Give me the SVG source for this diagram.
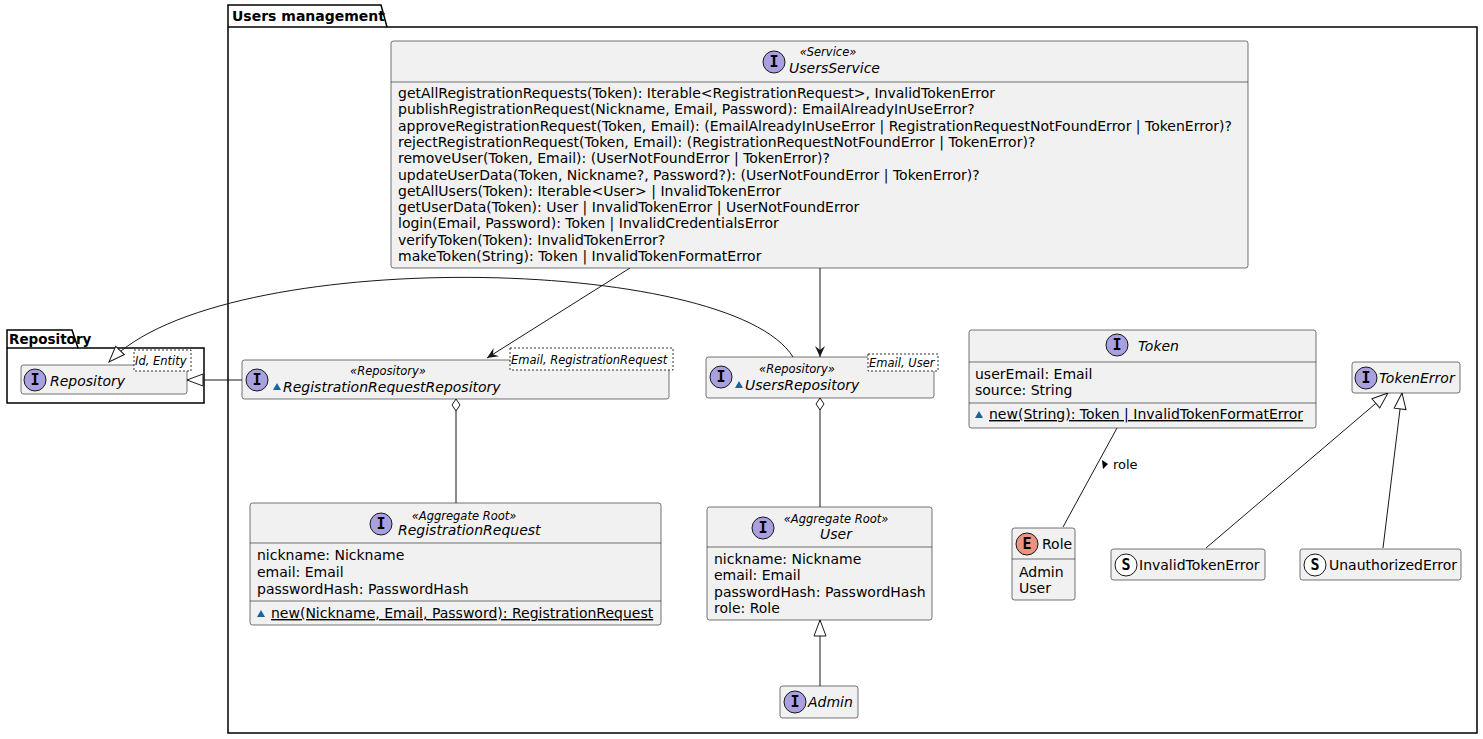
<svg xmlns="http://www.w3.org/2000/svg" width="1483" height="739" viewBox="0 0 1483 739">
<style>
text{font-family:"DejaVu Sans",sans-serif;fill:#000}
.m{font-size:14px}
.n{font-size:14px;font-style:italic}
.s{font-size:11.5px;font-style:italic;text-anchor:middle}
.t{font-size:11.5px;font-style:italic}
.b{fill:#F1F1F1;stroke:#181818;stroke-width:0.6}
.sep{stroke:#181818;stroke-width:0.6}
.ic{fill:#A9A0DF;stroke:#181818;stroke-width:1}
.l{stroke:#181818;stroke-width:1;fill:none}
.tp{fill:#fff;stroke:#000;stroke-width:0.8;stroke-dasharray:2,2}
.ci{font-size:15px;font-weight:bold;text-anchor:middle;font-family:"DejaVu Sans Mono",monospace}
.u{text-decoration:underline}
.vis{fill:#1963A0}
</style>
<defs>
<marker id="ar" markerWidth="12" markerHeight="12" refX="11" refY="5" orient="auto" markerUnits="userSpaceOnUse"><path d="M0,0 L11,5 L0,10 L4,5 Z" fill="#181818"/></marker>
<marker id="gen" markerWidth="20" markerHeight="16" refX="17" refY="7" orient="auto" markerUnits="userSpaceOnUse"><path d="M1,1 L17,7 L1,13 Z" fill="#fff" stroke="#181818"/></marker>
</defs>
<g id="pkg-users">
<path d="M228,27 L228,5 L381,5 L387,27 L1477,27 L1477,733 L228,733 Z" fill="none" stroke="#000" stroke-width="1.5"/>
<line x1="228" y1="27" x2="387" y2="27" stroke="#000" stroke-width="1.5"/>
<text x="232" y="21" style="font-size:14px;font-weight:bold">Users management</text>
</g>
<g id="pkg-repo">
<path d="M7,348 L7,330 L72,330 L78,348 L204,348 L204,403 L7,403 Z" fill="none" stroke="#000" stroke-width="1.5"/>
<line x1="7" y1="348" x2="78" y2="348" stroke="#000" stroke-width="1.5"/>
<text x="9" y="344" style="font-size:13.5px;font-weight:bold">Repository</text>
</g>
<g id="connectors">
<line class="l" x1="630" y1="268" x2="487" y2="358" marker-end="url(#ar)"/>
<line class="l" x1="820" y1="268" x2="820" y2="357" marker-end="url(#ar)"/>
<path class="l" d="M793,357 C730,255 220,245 109,362" marker-end="url(#gen)"/>
<line class="l" x1="242" y1="380" x2="187" y2="380" marker-end="url(#gen)"/>
<line class="l" x1="456" y1="503" x2="456" y2="411"/>
<path d="M456,399 L452,405 L456,411 L460,405 Z" fill="#fff" stroke="#181818"/>
<line class="l" x1="820" y1="507" x2="820" y2="410"/>
<path d="M820,398 L816,404 L820,410 L824,404 Z" fill="#fff" stroke="#181818"/>
<line class="l" x1="820" y1="686" x2="820" y2="620" marker-end="url(#gen)"/>
<line class="l" x1="1117" y1="428" x2="1063" y2="527"/>
<path d="M1102,460 L1108,464 L1103,469 Z" fill="#000"/>
<text x="1113" y="469" style="font-size:13px">role</text>
<line class="l" x1="1206" y1="548" x2="1388" y2="393" marker-end="url(#gen)"/>
<line class="l" x1="1383" y1="548" x2="1402" y2="393" marker-end="url(#gen)"/>
</g>
<g id="Repository">
<rect class="b" x="21" y="365" width="166" height="29" rx="2.5"/>
<circle class="ic" cx="35" cy="380" r="11"/><text class="ci" x="35" y="385">I</text>
<text class="n" x="50" y="386">Repository</text>
<rect class="tp" x="134" y="350" width="57" height="21"/>
<text class="t" x="135" y="365">Id, Entity</text>
</g>
<g id="RegistrationRequestRepository">
<rect class="b" x="242" y="360" width="427" height="39" rx="2.5"/>
<circle class="ic" cx="257" cy="380" r="11"/><text class="ci" x="257" y="385">I</text>
<text class="s" x="388" y="375">«Repository»</text>
<path class="vis" d="M273,390 L277,383 L281,390 Z"/>
<text class="n" x="283" y="392">RegistrationRequestRepository</text>
<rect class="tp" x="510" y="348" width="163" height="22"/>
<text class="t" x="511" y="364">Email, RegistrationRequest</text>
</g>
<g id="UsersRepository">
<rect class="b" x="706" y="357" width="228" height="41" rx="2.5"/>
<circle class="ic" cx="721" cy="377" r="11"/><text class="ci" x="721" y="382">I</text>
<text class="s" x="797" y="373">«Repository»</text>
<path class="vis" d="M735,388 L739,381 L743,388 Z"/>
<text class="n" x="745" y="390">UsersRepository</text>
<rect class="tp" x="868" y="354" width="70" height="17"/>
<text class="t" x="869" y="367">Email, User</text>
</g>
<g id="UsersService">
<rect class="b" x="391" y="41" width="857" height="227" rx="2.5"/>
<line class="sep" x1="391" y1="82" x2="1248" y2="82"/>
<circle class="ic" cx="774" cy="62" r="11"/><text class="ci" x="774" y="67">I</text>
<text class="s" x="828" y="56">«Service»</text>
<text class="n" x="789" y="73">UsersService</text>
<g class="m">
<text x="398" y="98">getAllRegistrationRequests(Token): Iterable&lt;RegistrationRequest&gt;, InvalidTokenError</text>
<text x="398" y="114.3">publishRegistrationRequest(Nickname, Email, Password): EmailAlreadyInUseError?</text>
<text x="398" y="130.6">approveRegistrationRequest(Token, Email): (EmailAlreadyInUseError | RegistrationRequestNotFoundError | TokenError)?</text>
<text x="398" y="146.9">rejectRegistrationRequest(Token, Email): (RegistrationRequestNotFoundError | TokenError)?</text>
<text x="398" y="163.2">removeUser(Token, Email): (UserNotFoundError | TokenError)?</text>
<text x="398" y="179.5">updateUserData(Token, Nickname?, Password?): (UserNotFoundError | TokenError)?</text>
<text x="398" y="195.8">getAllUsers(Token): Iterable&lt;User&gt; | InvalidTokenError</text>
<text x="398" y="212.1">getUserData(Token): User | InvalidTokenError | UserNotFoundError</text>
<text x="398" y="228.4">login(Email, Password): Token | InvalidCredentialsError</text>
<text x="398" y="244.7">verifyToken(Token): InvalidTokenError?</text>
<text x="398" y="261">makeToken(String): Token | InvalidTokenFormatError</text>
</g>
</g>
<g id="Token">
<rect class="b" x="969" y="330" width="347" height="98" rx="2.5"/>
<line class="sep" x1="969" y1="362" x2="1316" y2="362"/>
<line class="sep" x1="969" y1="403" x2="1316" y2="403"/>
<circle class="ic" cx="1117" cy="345" r="11"/><text class="ci" x="1117" y="350">I</text>
<text class="n" x="1138" y="351">Token</text>
<text class="m" x="975" y="379">userEmail: Email</text>
<text class="m" x="975" y="395">source: String</text>
<path class="vis" d="M975,418 L979,411 L983,418 Z"/>
<text class="m u" x="989" y="419">new(String): Token | InvalidTokenFormatError</text>
</g>
<g id="TokenError">
<rect class="b" x="1352" y="362" width="108" height="31" rx="2.5"/>
<circle class="ic" cx="1366" cy="378" r="11"/><text class="ci" x="1366" y="383">I</text>
<text class="n" x="1379" y="383">TokenError</text>
</g>
<g id="Role">
<rect class="b" x="1012" y="528" width="63" height="72" rx="2.5"/>
<line class="sep" x1="1012" y1="559" x2="1075" y2="559"/>
<circle cx="1027" cy="544" r="11" fill="#EB937F" stroke="#181818"/><text class="ci" x="1027" y="549">E</text>
<text class="m" x="1042" y="549">Role</text>
<text class="m" x="1019" y="577">Admin</text>
<text class="m" x="1019" y="593">User</text>
</g>
<g id="InvalidTokenError">
<rect class="b" x="1111" y="549" width="154" height="31" rx="2.5"/>
<circle cx="1126" cy="565" r="11" fill="#fff" stroke="#181818"/><text class="ci" x="1126" y="570">S</text>
<text class="m" x="1139" y="570">InvalidTokenError</text>
</g>
<g id="UnauthorizedError">
<rect class="b" x="1300" y="549" width="161" height="31" rx="2.5"/>
<circle cx="1315" cy="565" r="11" fill="#fff" stroke="#181818"/><text class="ci" x="1315" y="570">S</text>
<text class="m" x="1329" y="570">UnauthorizedError</text>
</g>
<g id="RegistrationRequest">
<rect class="b" x="250" y="503" width="411" height="122" rx="2.5"/>
<line class="sep" x1="250" y1="543" x2="661" y2="543"/>
<line class="sep" x1="250" y1="601" x2="661" y2="601"/>
<circle class="ic" cx="381" cy="524" r="11"/><text class="ci" x="381" y="529">I</text>
<text class="s" x="464" y="520">«Aggregate Root»</text>
<text class="n" x="398" y="535">RegistrationRequest</text>
<text class="m" x="257" y="560">nickname: Nickname</text>
<text class="m" x="257" y="577">email: Email</text>
<text class="m" x="257" y="594">passwordHash: PasswordHash</text>
<path class="vis" d="M257,617 L261,610 L265,617 Z"/>
<text class="m u" x="271" y="618">new(Nickname, Email, Password): RegistrationRequest</text>
</g>
<g id="User">
<rect class="b" x="707" y="507" width="225" height="113" rx="2.5"/>
<line class="sep" x1="707" y1="547" x2="932" y2="547"/>
<circle class="ic" cx="763" cy="528" r="11"/><text class="ci" x="763" y="533">I</text>
<text class="s" x="836" y="523">«Aggregate Root»</text>
<text class="n" x="836" y="539" text-anchor="middle">User</text>
<text class="m" x="714" y="564">nickname: Nickname</text>
<text class="m" x="714" y="580">email: Email</text>
<text class="m" x="714" y="597">passwordHash: PasswordHash</text>
<text class="m" x="714" y="613">role: Role</text>
</g>
<g id="Admin">
<rect class="b" x="780" y="686" width="78" height="32" rx="2.5"/>
<circle class="ic" cx="795" cy="702" r="11"/><text class="ci" x="795" y="707">I</text>
<text class="n" x="808" y="707">Admin</text>
</g>
</svg>
